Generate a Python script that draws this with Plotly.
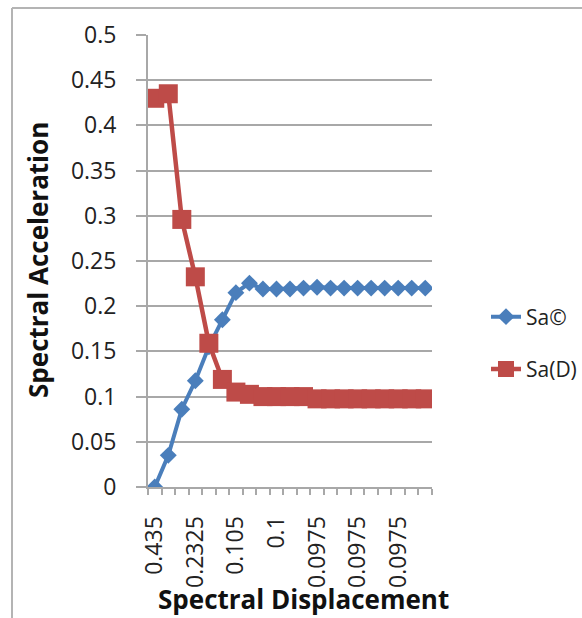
import plotly.graph_objects as go

# Category positions along the displacement axis (21 steps)
positions = list(range(1, 22))

# Labelled categories (every third step)
label_positions = [1, 4, 7, 10, 13, 16, 19]
label_text = ["0.435", "0.2325", "0.105", "0.1", "0.0975", "0.0975", "0.0975"]

# Sa(C) series
sa_c = [0.0, 0.035, 0.086, 0.1175, 0.155, 0.185, 0.215, 0.2255, 0.219, 0.219,
        0.219, 0.22, 0.221, 0.22, 0.22, 0.22, 0.22, 0.22, 0.22, 0.22, 0.22]

# Sa(D) series
sa_d = [0.43, 0.435, 0.296, 0.2325, 0.159, 0.119, 0.105, 0.1025, 0.1, 0.1,
        0.1, 0.1, 0.0975, 0.0975, 0.0975, 0.0975, 0.0975, 0.0975, 0.0975, 0.0975, 0.0975]

W, H = 582, 618
L, R, T, B = 148, 150, 35, 131
pw, ph = W - L - R, H - T - B


def px_x(p):
    return (p - L) / pw


def px_y(p):
    return (H - B - p) / ph


FONT = "Open Sans"
GRID = "#a8a8a8"

fig = go.Figure()
fig.add_trace(go.Scatter(
    x=positions, y=sa_c, mode="lines+markers", name="Sa©", legendgroup="c",
    line=dict(color="#4a7ebb", width=4),
    marker=dict(symbol="diamond", size=13, color="#4a7ebb"),
))
fig.add_trace(go.Scatter(
    x=positions, y=sa_d, mode="lines+markers", name="Sa(D)", legendgroup="d",
    line=dict(color="#be4b48", width=4.5),
    marker=dict(symbol="square", size=19, color="#be4b48"),
))

fig.update_layout(
    width=W, height=H,
    margin=dict(l=L, r=R, t=T, b=B, autoexpand=False),
    paper_bgcolor="white", plot_bgcolor="white",
    font=dict(family=FONT, size=21, color="#222222"),
    showlegend=True,
    legend=dict(
        x=px_x(486), y=px_y(343), xanchor="left", yanchor="middle",
        traceorder="grouped", tracegroupgap=22,
        font=dict(family=FONT, size=21, color="#222222"),
        bgcolor="rgba(0,0,0,0)",
    ),
    xaxis=dict(
        range=[0.5, 21.5], showgrid=False, zeroline=False,
        showline=True, linecolor=GRID, linewidth=2,
        tickmode="array", tickvals=label_positions, ticktext=label_text,
        tickangle=-90, ticks="", ticklabelstandoff=18,
        tickfont=dict(family=FONT, size=23, color="#222222"),
        minor=dict(ticks="outside", ticklen=6, tickwidth=2, tickcolor=GRID,
                   tickmode="linear", tick0=0.5, dtick=1, showgrid=False),
    ),
    yaxis=dict(
        range=[0, 0.5], dtick=0.05, tick0=0, showgrid=True, gridcolor=GRID,
        gridwidth=2, zeroline=False, showline=True, linecolor=GRID, linewidth=2,
        ticks="outside", ticklen=10, tickwidth=2, tickcolor=GRID,
        ticklabelstandoff=15,
        tickfont=dict(family=FONT, size=23, color="#222222"),
    ),
    annotations=[
        dict(text="<b>Spectral Acceleration</b>", textangle=-90,
             xref="paper", yref="paper", x=px_x(38), y=px_y(260),
             xanchor="center", yanchor="middle", showarrow=False,
             font=dict(family=FONT, size=26, color="#111111")),
        dict(text="<b>Spectral Displacement</b>",
             xref="paper", yref="paper", x=px_x(303), y=px_y(599),
             xanchor="center", yanchor="middle", showarrow=False,
             font=dict(family=FONT, size=26, color="#111111")),
    ],
    shapes=[
        dict(type="line", xref="paper", yref="paper",
             x0=px_x(12), x1=px_x(12), y0=px_y(8), y1=px_y(640),
             line=dict(color="#b4b4b4", width=2)),
        dict(type="line", xref="paper", yref="paper",
             x0=px_x(12), x1=px_x(620), y0=px_y(8), y1=px_y(8),
             line=dict(color="#b4b4b4", width=2)),
    ],
)

fig.write_html("out.html")
